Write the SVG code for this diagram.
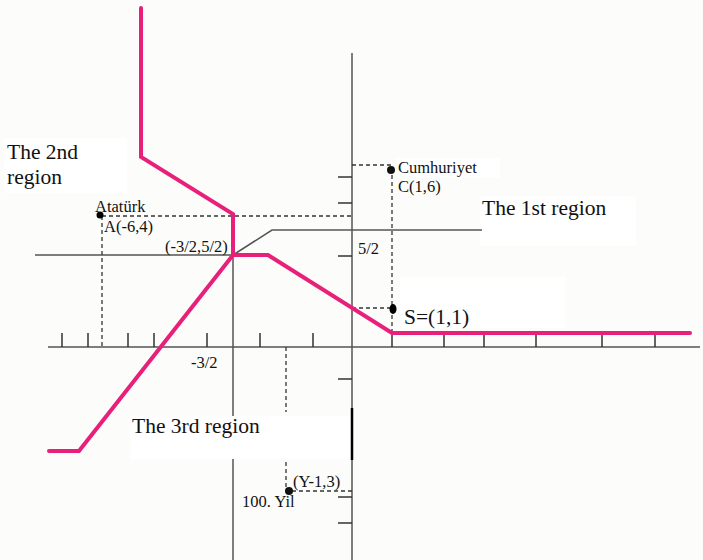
<svg xmlns="http://www.w3.org/2000/svg" width="703" height="560" viewBox="0 0 703 560">
<style>
.ax{stroke:#555;stroke-width:1.5;fill:none}
.tk{stroke:#333;stroke-width:1.5;fill:none}
.ds{stroke:#333;stroke-width:1.3;stroke-dasharray:4,3;fill:none}
.pk{stroke:#e8207a;stroke-width:4;fill:none;stroke-linejoin:miter;stroke-linecap:round}
.box{fill:#ffffff}
text{font-family:"Liberation Serif","Times New Roman",serif;fill:#111}
.s{font-size:16.5px}
.l{font-size:21.5px}
</style>
<rect width="703" height="560" fill="#fcfcfa"/>
<g id="boxes">
<rect class="box" x="4" y="138" width="123" height="55"/>
<rect class="box" x="480" y="196" width="156" height="50"/>
<rect class="box" x="400" y="277" width="166" height="51"/>
<rect class="box" x="130" y="416" width="220" height="43"/>
<rect class="box" x="395" y="158" width="105" height="20"/>
</g>
<g id="axes">
<line class="ax" x1="48" y1="347" x2="700" y2="347"/>
<line class="ax" x1="352" y1="53" x2="352" y2="560"/>
<line x1="352" y1="408" x2="352" y2="460" stroke="#000" stroke-width="2.5"/>
<line class="ax" x1="35" y1="255" x2="233" y2="255"/>
<line class="ax" x1="233" y1="255" x2="233" y2="416"/>
<line class="ax" x1="233" y1="459" x2="233" y2="560"/>
<polyline class="ax" points="233,255 272,230 482,230" stroke-width="1.3"/>
<path class="tk" d="M62,347V333M88,347V333M128,347V333M154,347V333M207,347V333M260,347V333M313,347V333M392,347V333M444,347V334M484,347V334M536,347V334M602,347V334M655,347V334"/>
<path class="tk" d="M338,177H352M338,203H352M338,256H352M338,379H352M338,497H352M338,523H352"/>
</g>
<g id="connectors">
<path class="ds" d="M102,216H352M102,216V347"/>
<path class="ds" d="M352,165H392M392,168V333"/>
<path class="ds" d="M352,308H392"/>
<path class="ds" d="M286,347V412M286,462V491H352"/>
<polyline class="pk" points="141,8 141,157 233,214 233,255 268,255 392,333 690,333"/>
<polyline class="pk" points="49,451 79,451 233,255"/>
</g>
<g id="points">
<circle id="A" cx="100" cy="215" r="3.5" fill="#000"/>
<circle id="C" cx="391" cy="170" r="4" fill="#111"/>
<ellipse id="S" cx="393" cy="309" rx="3.5" ry="5" fill="#000"/>
<circle id="Y" cx="289" cy="491" r="4" fill="#111"/>
</g>
<g id="labels">
<text class="l" x="7" y="159">The 2nd</text>
<text class="l" x="7" y="184">region</text>
<text class="s" x="95" y="212">Atatürk</text>
<text class="s" x="104" y="232">A(-6,4)</text>
<text class="s" x="165" y="252">(-3/2,5/2)</text>
<text class="s" x="398" y="173">Cumhuriyet</text>
<text class="s" x="398" y="192">C(1,6)</text>
<text class="l" x="482" y="215">The 1st region</text>
<text class="s" x="358" y="254">5/2</text>
<text class="l" x="404" y="324">S=(1,1)</text>
<text class="s" x="191" y="368">-3/2</text>
<text class="l" x="132" y="433">The 3rd region</text>
<text class="s" x="293" y="487">(Y-1,3)</text>
<text class="s" x="242" y="507">100. Yil</text>
</g>
</svg>
